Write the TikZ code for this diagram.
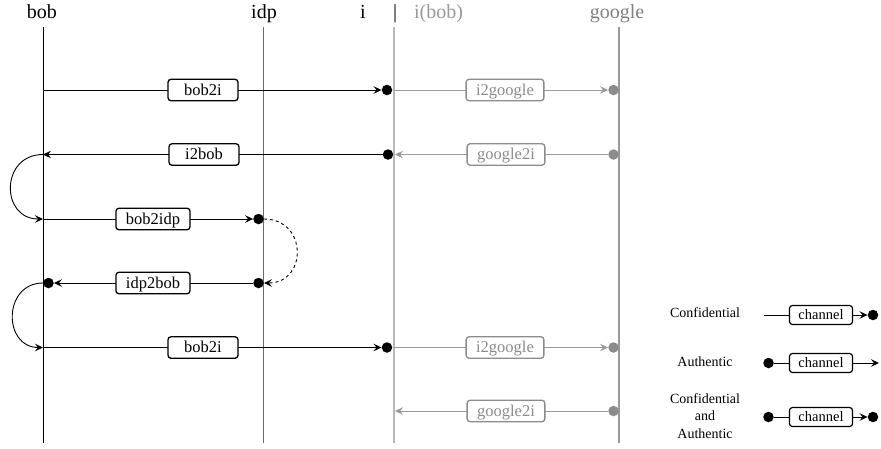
\documentclass[tikz,border=0pt]{standalone}
\usepackage{fontspec}
\setmainfont{Liberation Serif}
\usetikzlibrary{arrows.meta}
\definecolor{idpline}{gray}{0.42}
\definecolor{iline}{gray}{0.72}
\definecolor{gline}{gray}{0.6}
\definecolor{gmsgc}{gray}{0.55}
\definecolor{gtext}{gray}{0.55}
\definecolor{htextA}{gray}{0.6}
\definecolor{htextB}{gray}{0.5}
\begin{document}
\begin{tikzpicture}[x=1pt,y=-1pt,
  tip/.style={-{Stealth[length=8pt,width=7.5pt,inset=3pt]}},
  msgline/.style={line width=0.9pt},
  gmsgline/.style={line width=0.9pt,draw=gline},
  lifeline/.style={line width=1pt},
  msg/.style={draw,line width=1.3pt,rounded corners=3pt,fill=white,
    font=\fontsize{16.5}{18}\selectfont,minimum width=70pt,minimum height=21.5pt,
    inner xsep=10pt,inner ysep=0pt,text height=10.8pt,text depth=0pt},
  gmsg/.style={msg,draw=gmsgc,text=gtext},
  lbox/.style={draw,line width=1.2pt,rounded corners=3pt,fill=white,
    font=\fontsize{14.5}{16}\selectfont,minimum height=19pt,
    inner xsep=9pt,inner ysep=0pt,text height=9.5pt,text depth=0pt},
  dot/.style={circle,fill=black,inner sep=0pt,minimum size=10.5pt},
  gdot/.style={dot,fill=gmsgc},
  head/.style={font=\fontsize{20}{24}\selectfont,anchor=base,inner sep=0pt},
  leg/.style={font=\fontsize{14}{17.5}\selectfont,inner sep=0pt,align=center}]
\useasboundingbox (0,0) rectangle (881,448);

% headers
\node[head] (hbob) at (42,18.5) {bob};
\node[head] (hidp) at (264,18.5) {idp};
\node[head] (hi) at (363,18.5) {i};
\node[head] (hbar) at (395,18.5) {|};
\node[head,text=htextA] (hibob) at (438.5,18.5) {i(bob)};
\node[head,text=htextB] (hgoogle) at (617,18.5) {google};

% lifelines
\coordinate (bobT) at (43,27);   \coordinate (bobB) at (43,443);
\coordinate (idpT) at (263.5,27); \coordinate (idpB) at (263.5,443);
\coordinate (iT) at (394,27);    \coordinate (iB) at (394,443);
\coordinate (gT) at (619,27);    \coordinate (gB) at (619,443);
\draw[lifeline] (bobT) -- (bobB);
\draw[lifeline,draw=idpline,line width=1.2pt] (idpT) -- (idpB);
\draw[lifeline,draw=iline,line width=1.2pt] (iT) -- (iB);
\draw[lifeline,draw=gline,line width=1.2pt] (gT) -- (gB);

% row 1
\coordinate (m1s) at (43,90);
\node[dot] (d1) at (387,90) {};
\draw[msgline,tip] (m1s) -- (d1.west);
\node[msg] (b1) at (203,90) {bob2i};
\coordinate (g1s) at (394,90);
\node[gdot] (gd1) at (613.5,90) {};
\draw[gmsgline,tip] (g1s) -- (gd1.west);
\node[gmsg] (gb1) at (505,90) {i2google};

% row 2
\node[dot] (d2) at (388,154.5) {};
\coordinate (m2e) at (43,154.5);
\draw[msgline,tip] (d2.west) -- (m2e);
\node[msg] (b2) at (204,154.5) {i2bob};
\node[gdot] (gd2) at (613.5,154.5) {};
\coordinate (g2e) at (395,154.5);
\draw[gmsgline,tip] (gd2.west) -- (g2e);
\node[gmsg] (gb2) at (506,154.5) {google2i};

% row 3
\coordinate (m3s) at (43,219);
\node[dot] (d3) at (258.5,219) {};
\draw[msgline,tip] (m3s) -- (d3.west);
\node[msg] (b3) at (153,219) {bob2idp};

% row 4
\node[dot] (d4) at (258.5,283) {};
\node[dot] (d4b) at (48.5,283) {};
\draw[msgline,tip] (d4.west) -- (d4b.east);
\node[msg] (b4) at (153,283) {idp2bob};

% row 5
\coordinate (m5s) at (43,347.5);
\node[dot] (d5) at (387,347.5) {};
\draw[msgline,tip] (m5s) -- (d5.west);
\node[msg] (b5) at (203,347.5) {bob2i};
\coordinate (g5s) at (394,347.5);
\node[gdot] (gd5) at (613.5,347.5) {};
\draw[gmsgline,tip] (g5s) -- (gd5.west);
\node[gmsg] (gb5) at (505,347.5) {i2google};

% row 6
\node[gdot] (gd6) at (613.5,411) {};
\coordinate (g6e) at (395,411);
\draw[gmsgline,tip] (gd6.west) -- (g6e);
\node[gmsg] (gb6) at (506,411) {google2i};

% curves
\draw[msgline,tip] (m2e) to[out=180,in=180,looseness=1.7] (m3s);
\draw[msgline,tip] (d4b.west) to[out=180,in=180,looseness=1.6] (m5s);
\draw[msgline,tip,dashed] (d3.east) to[out=0,in=0,looseness=1.75] (d4.east);

% legend
\node[leg] (lc) at (705,313) {Confidential};
\coordinate (l1s) at (764,315);
\node[lbox] (lb1) at (821,315) {channel};
\node[dot] (ld1) at (873,315) {};
\draw[msgline] (l1s) -- (lb1.west);
\draw[msgline,tip] (lb1.east) -- (ld1.west);

\node[leg] (la) at (705,362) {Authentic};
\node[dot] (ld2) at (768.5,363) {};
\node[lbox] (lb2) at (821,363) {channel};
\coordinate (l2e) at (879,363);
\draw[msgline] (ld2.east) -- (lb2.west);
\draw[msgline,tip] (lb2.east) -- (l2e);

\node[leg] (lca) at (705,416) {Confidential\\and\\Authentic};
\node[dot] (ld3) at (768.5,417) {};
\node[lbox] (lb3) at (821,417) {channel};
\node[dot] (ld4) at (873,417) {};
\draw[msgline] (ld3.east) -- (lb3.west);
\draw[msgline,tip] (lb3.east) -- (ld4.west);
\end{tikzpicture}
\end{document}
